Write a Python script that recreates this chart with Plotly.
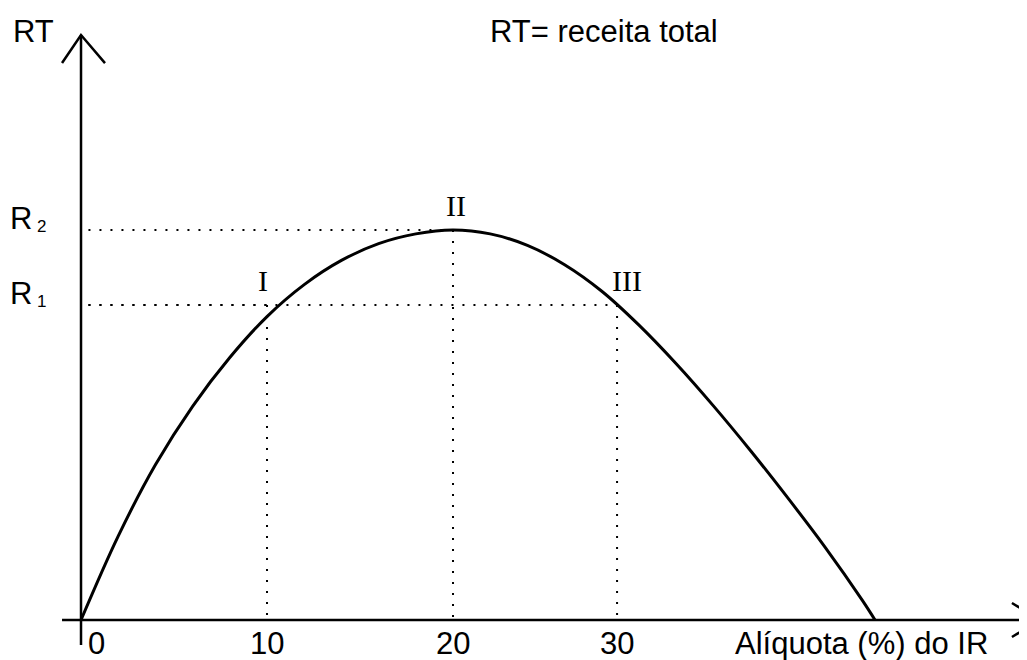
import plotly.graph_objects as go

# ---- data ----
curve_x = [0, 2, 4, 6, 8, 10, 12, 14, 16, 18, 20,
           22, 24, 26, 28, 30, 32, 34, 36, 38, 40, 42, 42.69]
curve_y = [0, 21.5, 39.8, 54.8, 67.3, 77.8, 86.0, 92.2, 96.5, 99.0, 100,
           99.0, 96.05, 91.1, 84.3, 75.6, 65.7, 54.9, 43.4, 31.3, 18.7, 5.1, 0]

point_names = ["I", "II", "III"]
point_x = [10.0, 20.0, 28.82]
point_level = [80.77, 100.0, 80.77]

level_base = ["R", "R"]
level_sub = ["1", "2"]
level_y = [80.77, 100.0]

tick_pos = [0, 10, 20, 28.82]
tick_text = ["0", "10", "20", "30"]

x_title = "Alíquota (%) do IR"
y_title = "RT"
note = "RT= receita total"

# ---- figure ----
SANS = "Liberation Sans, Arial, sans-serif"
SERIF = "Liberation Serif, Times New Roman, serif"
DOT = "2px,9px"
FS = 31

fig = go.Figure()

# dotted guide lines (horizontal from y-axis, vertical down to x-axis)
for lx, ly in zip(point_x, point_level):
    fig.add_trace(go.Scatter(x=[0.4, lx], y=[ly, ly], mode="lines",
                             line=dict(color="black", width=2, dash=DOT),
                             hoverinfo="skip", showlegend=False))
    fig.add_trace(go.Scatter(x=[lx, lx], y=[ly, 0], mode="lines",
                             line=dict(color="black", width=2, dash=DOT),
                             hoverinfo="skip", showlegend=False))

# Laffer curve
fig.add_trace(go.Scatter(x=curve_x, y=curve_y, mode="lines",
                         line=dict(color="black", width=3, shape="spline", smoothing=1.0),
                         hoverinfo="skip", showlegend=False))

# axes with arrows
axis_line = dict(color="black", width=2.5)
fig.add_shape(type="line", x0=-1.02, y0=0, x1=52, y1=0, xref="x", yref="y", line=axis_line)
fig.add_shape(type="line", x0=0, y0=-6.41, x1=0, y1=150, xref="x", yref="y", line=axis_line)
fig.add_shape(type="path", path="M -1.02 142.8 L 0 150 L 1.29 142.8", xref="x", yref="y",
              line=axis_line)
fig.add_shape(type="path", path="M 50.05 4.36 L 51.55 0 L 50.05 -4.36", xref="x", yref="y",
              line=axis_line)

# tick labels
for tp, tt in zip(tick_pos, tick_text):
    fig.add_annotation(x=tp, y=0, text=tt, showarrow=False, xanchor="center", yanchor="middle",
                       yshift=-24, xshift=(15 if tt == "0" else 0),
                       font=dict(family=SANS, size=FS, color="black"))

# axis titles and note
fig.add_annotation(x=41.94, y=0, text=x_title, showarrow=False, xanchor="center", yanchor="middle",
                   yshift=-24, font=dict(family=SANS, size=FS, color="black"))
fig.add_annotation(x=0, y=150, text=y_title, showarrow=False, xanchor="center", yanchor="middle",
                   xshift=-48, yshift=3, font=dict(family=SANS, size=FS, color="black"))
fig.add_annotation(x=28.1, y=150, text=note, showarrow=False, xanchor="center", yanchor="middle",
                   yshift=3, font=dict(family=SANS, size=FS, color="black"))

# level labels R1, R2 (letter + small subscript)
for lb, ls, ly in zip(level_base, level_sub, level_y):
    fig.add_annotation(x=0, y=ly, text=lb, showarrow=False, xanchor="center", yanchor="middle",
                       xshift=-60, yshift=11, font=dict(family=SANS, size=FS, color="black"))
    fig.add_annotation(x=0, y=ly, text=ls, showarrow=False, xanchor="center", yanchor="middle",
                       xshift=-40, yshift=3, font=dict(family=SANS, size=17, color="black"))

# roman numeral point labels
for pn, px, pl in zip(point_names, point_x, point_level):
    fig.add_annotation(x=px, y=pl, text=pn, showarrow=False, xanchor="center", yanchor="middle",
                       xshift=(-4 if pn == "I" else (3 if pn == "II" else 10)), yshift=24,
                       font=dict(family=SERIF, size=30, color="black"))

# the page places the figure 8px in from the top-left corner; ranges account for it
fig.update_layout(
    width=1027, height=660,
    margin=dict(l=0, r=0, t=0, b=0),
    paper_bgcolor="white", plot_bgcolor="white",
    xaxis=dict(visible=False, range=[-3.925, 51.29], fixedrange=True),
    yaxis=dict(visible=False, range=[-12.31, 156.92], fixedrange=True),
    showlegend=False,
)

fig.write_html("out.html")
